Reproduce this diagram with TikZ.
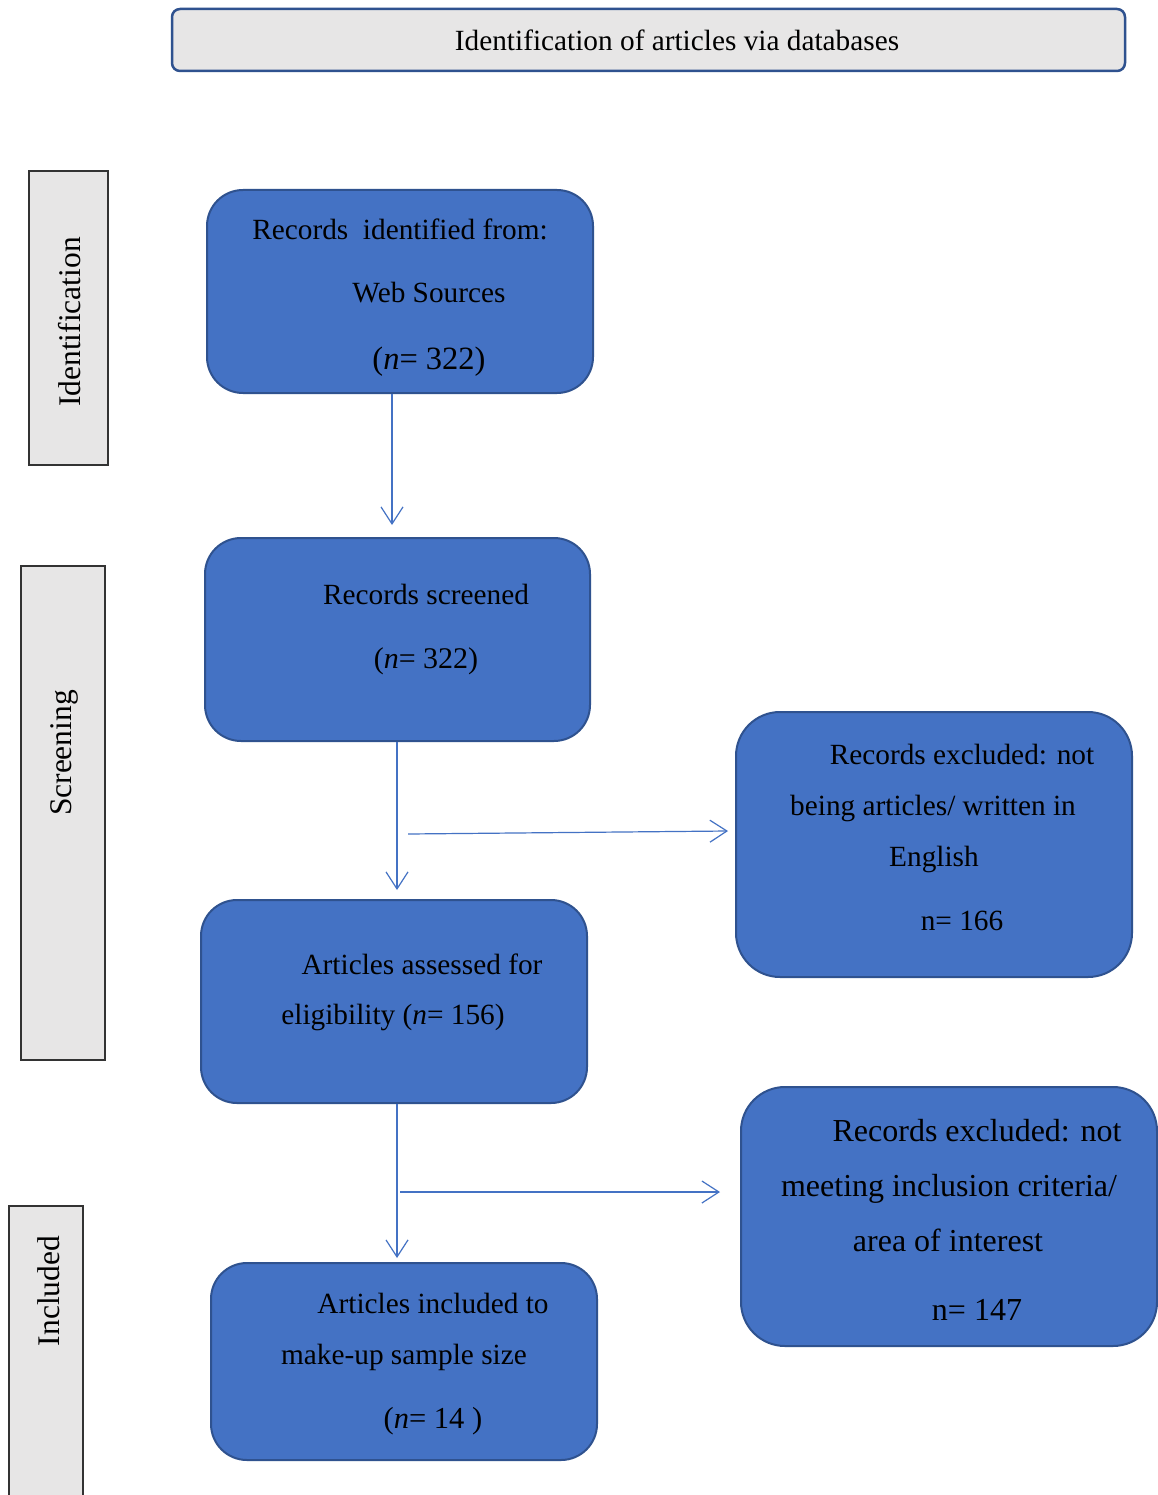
\documentclass[tikz,border=0pt]{standalone}
\usepackage{fontspec}
\setmainfont{Liberation Serif}
\usetikzlibrary{arrows.meta}
\definecolor{boxblue}{HTML}{4472C4}
\definecolor{boxedge}{HTML}{2F528F}
\definecolor{sidegray}{HTML}{E7E6E6}
\definecolor{arrblue}{HTML}{4472C4}
\begin{document}
\begin{tikzpicture}[x=1pt,y=-1pt,
  bluebox/.style={draw=boxedge, fill=boxblue, line width=2pt, rounded corners=36pt, inner sep=0pt},
  topbox/.style={draw=boxedge, fill=sidegray, line width=2.5pt, rounded corners=8pt, inner sep=0pt},
  sidebox/.style={draw=black!80, fill=sidegray, line width=1.3pt, inner sep=0pt},
  txt/.style={anchor=base, inner sep=0pt, font=\fontsize{29.3}{35}\selectfont},
  txtb/.style={anchor=base, inner sep=0pt, font=\fontsize{32}{38}\selectfont},
  sidetxt/.style={rotate=90, inner sep=0pt, font=\fontsize{31.5}{38}\selectfont},
  arr/.style={draw=arrblue, line width=1.2pt, -{Straight Barb[length=17pt,width=22pt,line width=1.2pt]}}
]
\clip (0,0) rectangle (1158,1495);
\fill[white] (0,0) rectangle (1158,1495);

% header
\node[topbox, minimum width=953pt, minimum height=62pt] (top) at (648.5,40) {};
\node[txt] (toptxt) at (677,51) {Identification of articles via databases};

% side labels
\node[sidebox, minimum width=79pt, minimum height=294pt] (s1) at (68.5,318) {};
\node[sidetxt] (s1t) at (70,322) {Identification};
\node[sidebox, minimum width=84pt, minimum height=494pt] (s2) at (63,813) {};
\node[sidetxt] (s2t) at (64,753) {Screening};
\node[sidebox, minimum width=74pt, minimum height=304pt] (s3) at (46,1358) {};
\node[sidetxt] (s3t) at (49,1291) {Included};

% main boxes
\node[bluebox, minimum width=386pt, minimum height=203pt] (b1) at (400,291.5) {};
\node[txt] (b1a) at (400,240) {Records\ \ identified from:};
\node[txt] (b1b) at (429,303) {Web Sources};
\node[txt, font=\fontsize{32.5}{38}\selectfont] (b1c) at (429,369) {(\textit{n}= 322)};

\node[bluebox, minimum width=385pt, minimum height=203pt] (b2) at (397.5,639.5) {};
\node[txt] (b2a) at (426,604) {Records screened};
\node[txt, font=\fontsize{30}{36}\selectfont] (b2b) at (426,668) {(\textit{n}= 322)};

\node[bluebox, minimum width=386pt, minimum height=203pt] (b3) at (394,1001.5) {};
\node[txt] (b3a) at (422,974) {Articles assessed for};
\node[txt] (b3b) at (393,1024) {eligibility (\textit{n}= 156)};

\node[bluebox, minimum width=386pt, minimum height=197pt] (b4) at (404,1361.5) {};
\node[txt] (b4a) at (433,1313) {Articles included to};
\node[txt] (b4b) at (404,1364) {make-up sample size};
\node[txt, font=\fontsize{30.5}{36}\selectfont] (b4c) at (433,1428) {(\textit{n}= 14 )};

% exclusion boxes
\node[bluebox, rounded corners=44pt, minimum width=396pt, minimum height=265pt] (r1) at (934,844.5) {};
\node[txt] (r1a) at (962,764) {Records excluded: not};
\node[txt] (r1b) at (933,815) {being articles/ written in};
\node[txt] (r1c) at (934,866) {English};
\node[txt] (r1d) at (962,930) {n= 166};

\node[bluebox, rounded corners=44pt, minimum width=416pt, minimum height=259pt] (r2) at (949,1216.5) {};
\node[txtb] (r2a) at (977,1141) {Records excluded: not};
\node[txtb] (r2b) at (949,1196) {meeting inclusion criteria/};
\node[txtb] (r2c) at (948,1251) {area of interest};
\node[txtb] (r2d) at (977,1320) {n= 147};

% connectors
\coordinate (a1e) at (392,525);
\draw[arr] (b1.south -| a1e) -- (a1e);
\coordinate (a2e) at (397,890);
\draw[arr] (b2.south -| a2e) -- (a2e);
\coordinate (h1s) at (408,834);
\coordinate (h1e) at (728,831);
\draw[arr] (h1s) -- (h1e);
\coordinate (a3e) at (397,1258);
\draw[arr] (b3.south -| a3e) -- (a3e);
\coordinate (h2s) at (400,1192);
\coordinate (h2e) at (720,1192);
\draw[arr] (h2s) -- (h2e);
\end{tikzpicture}
\end{document}
